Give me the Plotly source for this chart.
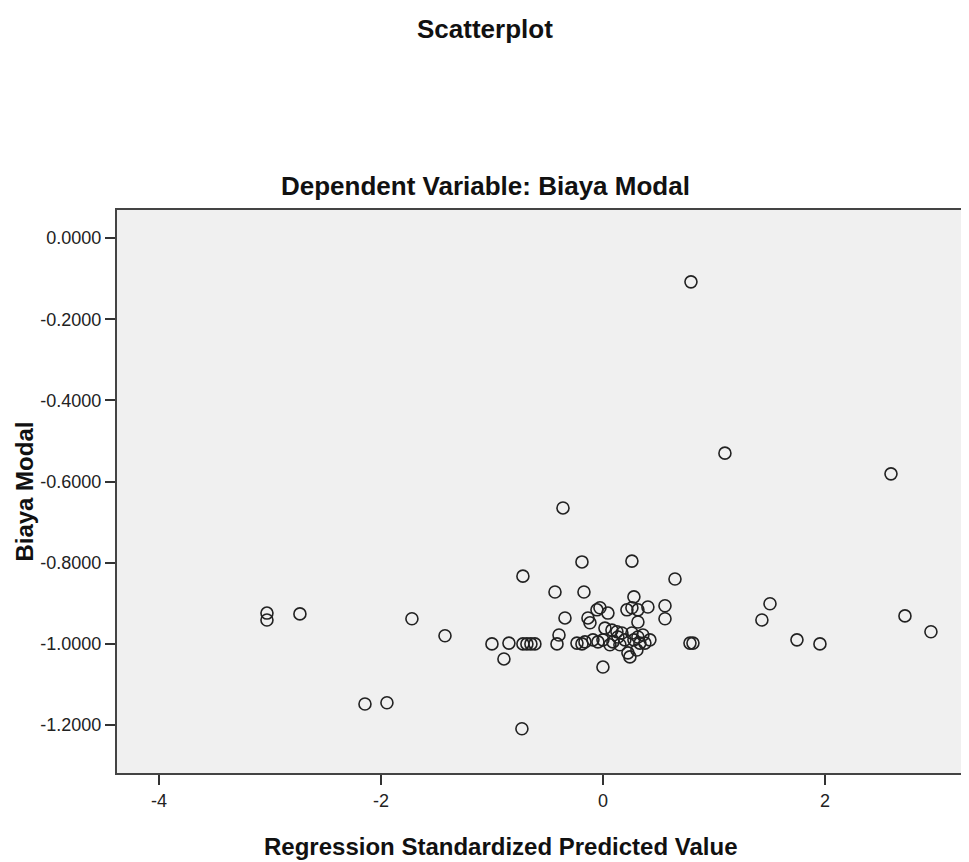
import plotly.graph_objects as go

# Regression Standardized Predicted Value (x) vs Biaya Modal (y)
pred_value = [
    0.793, 1.099, 2.595, -0.360, -0.189, 0.261, -0.721, 0.649, -0.432, -0.171,
    0.279, 1.505, 2.721, -3.027, -3.027, -2.730, -1.721, -1.423, 1.432, 2.955,
    1.748, 1.955, 0.784, 0.811, -1.000, -0.847, -0.892, -0.721, -0.685, -0.649,
    -0.613, -0.342, -0.396, -0.414, -0.234, -0.189, 0.000, -0.135, -0.117, -0.054,
    -0.027, 0.045, -0.090, -0.045, 0.000, 0.018, 0.090, 0.135, 0.171, 0.126,
    0.216, 0.261, 0.315, 0.405, 0.315, 0.261, 0.315, 0.360, 0.225, 0.243,
    0.306, 0.378, 0.559, 0.559, 0.279, 0.198, -0.162, 0.063, 0.333, 0.153,
    -2.144, -1.946, -0.730, 0.423, 0.081,
]
biaya_modal = [
    -0.108, -0.530, -0.581, -0.665, -0.798, -0.796, -0.833, -0.840, -0.872, -0.872,
    -0.884, -0.901, -0.931, -0.924, -0.941, -0.926, -0.938, -0.980, -0.941, -0.970,
    -0.990, -1.000, -0.998, -0.998, -1.000, -0.998, -1.037, -1.000, -1.000, -1.000,
    -1.000, -0.936, -0.978, -1.000, -0.998, -1.000, -1.057, -0.936, -0.948, -0.916,
    -0.911, -0.924, -0.990, -0.995, -0.990, -0.961, -0.995, -0.983, -0.973, -0.970,
    -0.916, -0.911, -0.916, -0.909, -0.946, -0.973, -0.983, -0.978, -1.022, -1.032,
    -1.015, -0.998, -0.906, -0.938, -0.990, -0.990, -0.995, -1.002, -0.998, -1.002,
    -1.148, -1.145, -1.209, -0.990, -0.966,
]

x_ticks = [-4, -2, 0, 2]
x_tick_labels = ["-4", "-2", "0", "2"]
y_ticks = [0.0, -0.2, -0.4, -0.6, -0.8, -1.0, -1.2]
y_tick_labels = ["0.0000", "-0.2000", "-0.4000", "-0.6000", "-0.8000", "-1.0000", "-1.2000"]

FONT = "Liberation Sans, Arial, sans-serif"

fig = go.Figure()
fig.add_trace(go.Scatter(
    x=pred_value, y=biaya_modal, mode="markers",
    marker=dict(symbol="circle-open", size=12, color="#222222",
                line=dict(width=1.6, color="#222222")),
    showlegend=False, hoverinfo="x+y",
))

axis_common = dict(
    showgrid=False, zeroline=False, showline=True, linecolor="#444444",
    linewidth=2, ticks="outside", ticklen=10, tickwidth=2, tickcolor="#333333",
    tickfont=dict(family=FONT, size=18, color="#222222"),
)

fig.update_xaxes(range=[-4.378, 3.37], tickvals=x_ticks, ticktext=x_tick_labels,
                 mirror=True, **axis_common)
fig.update_yaxes(range=[-1.318, 0.069], tickvals=y_ticks, ticktext=y_tick_labels,
                 **axis_common)

annos = [
    dict(text="<b>Scatterplot</b>", x=0.428, y=1.3215, size=26),
    dict(text="<b>Dependent Variable: Biaya Modal</b>", x=0.428, y=1.0426, size=26),
    dict(text="<b>Regression Standardized Predicted Value</b>", x=0.4465, y=-0.1314, size=24),
]
for a in annos:
    fig.add_annotation(text=a["text"], x=a["x"], y=a["y"], xref="paper", yref="paper",
                       xanchor="center", yanchor="middle", showarrow=False,
                       font=dict(family=FONT, size=a["size"], color="#111111"))
fig.add_annotation(text="<b>Biaya Modal</b>", x=-0.108, y=0.50, xref="paper", yref="paper",
                   xanchor="center", yanchor="middle", showarrow=False, textangle=-90,
                   font=dict(family=FONT, size=24, color="#111111"))

fig.update_layout(
    width=969, height=862,
    margin=dict(l=109, r=0, t=202, b=97),
    paper_bgcolor="white", plot_bgcolor="#f0f0f0",
    font=dict(family=FONT),
)

fig.write_html("out.html")
